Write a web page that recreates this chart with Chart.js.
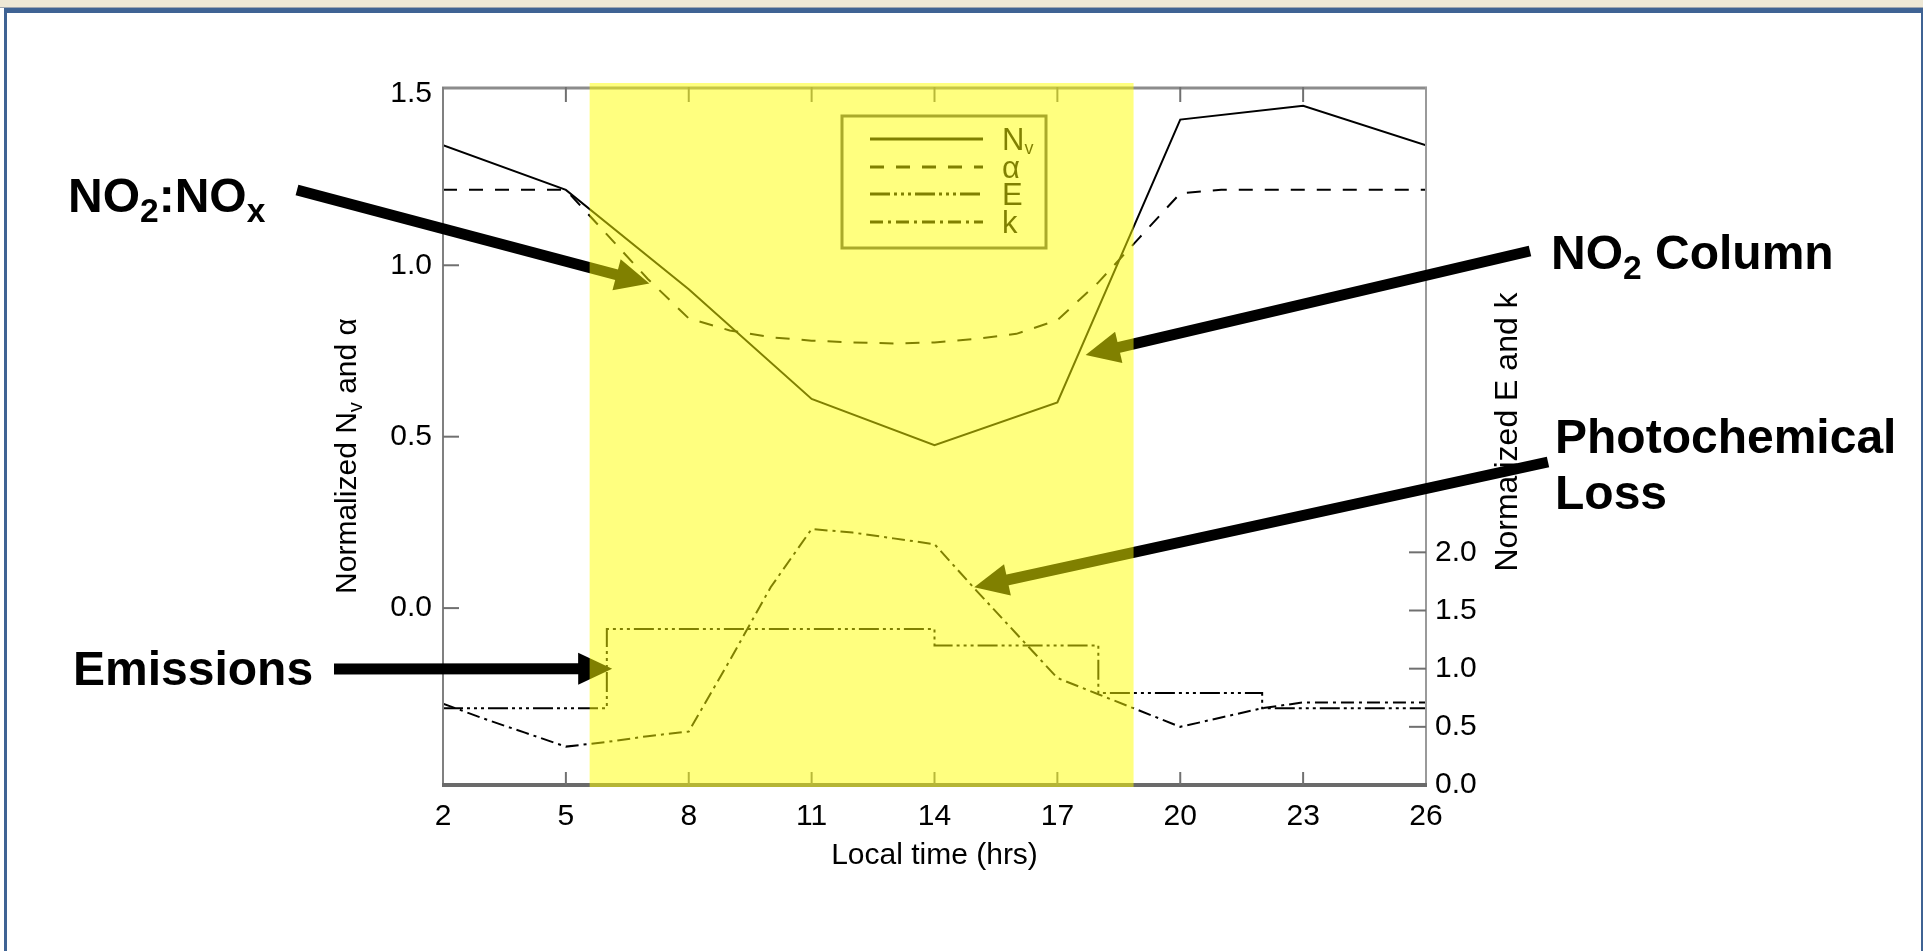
<!DOCTYPE html>
<html>
<head>
<meta charset="utf-8">
<script src="https://cdn.jsdelivr.net/npm/chart.js@4.4.1/dist/chart.umd.min.js"></script>
<style>
html,body{margin:0;padding:0;background:#fff;overflow:hidden;}
#wrap{position:relative;width:1923px;height:951px;background:#fff;}
#c{position:absolute;left:0;top:0;}
.band{position:absolute;left:0;top:0;width:1923px;height:7px;background:#EEE8D6;}
.gline{position:absolute;left:0;top:7px;width:1923px;height:1px;background:#9fa6b0;}
.bbar{position:absolute;left:4px;top:8px;width:1919px;height:5px;background:#3F6394;}
.lb{position:absolute;left:4px;top:8px;width:3px;height:943px;background:#3F6394;}
.rb{position:absolute;left:1921px;top:8px;width:2px;height:943px;background:#3F6394;}
.ann{position:absolute;font-family:'Liberation Sans',Arial,sans-serif;font-weight:bold;font-size:48px;color:#000;line-height:1;white-space:nowrap;}
.ann sub{font-size:0.7em;vertical-align:-0.3em;line-height:0;}
</style>
</head>
<body>
<div id="wrap">
  <canvas id="c" width="1923" height="951"></canvas>
  <div class="band"></div>
  <div class="gline"></div>
  <div class="bbar"></div>
  <div class="lb"></div>
  <div class="rb"></div>
  <div class="ann" style="left:68px;top:172px;">NO<sub>2</sub>:NO<sub>x</sub></div>
  <div class="ann" style="left:1551px;top:229px;">NO<sub>2</sub> Column</div>
  <div class="ann" style="left:1555px;top:409px;line-height:56px;">Photochemical<br>Loss</div>
  <div class="ann" style="left:73px;top:645px;">Emissions</div>
</div>
<script>
// ---------------- data ----------------
const hourGrid   = [2,3,4,5,6,7,8,9,10,11,12,13,14,15,16,17,18,19,20,21,22,23,24,25,26];
const nvHours    = [2,5,8,11,14,17,20,23,26];
const nvValues   = [1.35,1.22,0.93,0.61,0.475,0.60,1.425,1.465,1.35];
const alphaValues= [1.22,1.22,1.22,1.22,1.09,0.96,0.845,0.81,0.79,0.78,0.775,0.772,0.775,0.785,0.80,0.84,0.95,1.08,1.21,1.22,1.22,1.22,1.22,1.22,1.22];
const kValues    = [0.70,0.57,0.45,0.33,0.37,0.42,0.46,1.07,1.70,2.20,2.17,2.12,2.07,1.68,1.30,0.92,0.78,0.64,0.50,0.58,0.66,0.71,0.71,0.71,0.71];
const eHours     = [2,6,14,18,22,26];
const eValues    = [0.66,1.34,1.20,0.79,0.66,0.66];
const xTickValues     = [2,5,8,11,14,17,20,23,26];
const leftTickValues  = [0.0,0.5,1.0,1.5];
const rightTickValues = [0.0,0.5,1.0,1.5,2.0];
const daylight   = [5.58,18.86];
const seriesNames = ['N','α','E','k'];
const xTitle = 'Local time (hrs)';
const leftTitle  = ['Normalized N','v',' and α'];
const rightTitle = 'Normalized E and k';

// ---------------- styles ----------------
const FONT = "'Liberation Sans', Arial, sans-serif";
const dashes = { nv: [], alpha: [14,12], e: [20,4,3,4,3,4,3,4], k: [13,5,3,5] };

const pts = (xs, ys) => xs.map((x,i) => ({x, y: ys[i]}));

// annotation arrows: tails in canvas px, tips in data units
const arrows = [
  { tail:[297,190],  tip:{x:7.04,  y:0.947, axis:'yL'} },
  { tail:[1530,251], tip:{x:17.69, y:0.738, axis:'yL'} },
  { tail:[1548,462], tip:{x:14.97, y:1.70,  axis:'yR'} },
  { tail:[334,669],  tip:{x:6.13,  y:1.00,  axis:'yR'} }
];

function drawArrow(ctx, x1, y1, x2, y2) {
  const w = 11, hl = 34, hw = 16;
  const dx = x2 - x1, dy = y2 - y1, L = Math.hypot(dx, dy);
  const ux = dx / L, uy = dy / L, px = -uy, py = ux;
  const bx = x2 - ux * hl, by = y2 - uy * hl;
  ctx.save();
  ctx.strokeStyle = '#000'; ctx.fillStyle = '#000';
  ctx.lineWidth = w; ctx.lineCap = 'butt';
  ctx.beginPath(); ctx.moveTo(x1, y1); ctx.lineTo(bx + ux*2, by + uy*2); ctx.stroke();
  ctx.beginPath();
  ctx.moveTo(x2, y2);
  ctx.lineTo(bx + px*hw, by + py*hw);
  ctx.lineTo(bx - px*hw, by - py*hw);
  ctx.closePath(); ctx.fill();
  ctx.restore();
}

const decor = {
  id: 'decor',
  afterDraw(chart) {
    const {ctx, chartArea: a, scales} = chart;
    const xs = scales.x, yL = scales.yL, yR = scales.yR;
    ctx.save();
    // frame
    ctx.lineCap = 'butt';
    ctx.strokeStyle = '#8c8c8c'; ctx.lineWidth = 3;
    ctx.beginPath(); ctx.moveTo(a.left - 1, a.top + 1); ctx.lineTo(a.right + 1, a.top + 1); ctx.stroke();
    ctx.strokeStyle = '#808080'; ctx.lineWidth = 2;
    ctx.beginPath(); ctx.moveTo(a.left, a.top); ctx.lineTo(a.left, a.bottom); ctx.stroke();
    ctx.strokeStyle = '#9a9a9a';
    ctx.beginPath(); ctx.moveTo(a.right, a.top); ctx.lineTo(a.right, a.bottom); ctx.stroke();
    ctx.strokeStyle = '#6a6a6a'; ctx.lineWidth = 4;
    ctx.beginPath(); ctx.moveTo(a.left - 1, a.bottom); ctx.lineTo(a.right + 1, a.bottom); ctx.stroke();

    // inward tick marks
    ctx.strokeStyle = '#707070'; ctx.lineWidth = 2;
    xs.ticks.forEach(t => {
      if (t.value <= xs.min || t.value >= xs.max) return;
      const px = xs.getPixelForValue(t.value);
      ctx.beginPath(); ctx.moveTo(px, a.top); ctx.lineTo(px, a.top + 15); ctx.stroke();
      ctx.beginPath(); ctx.moveTo(px, a.bottom); ctx.lineTo(px, a.bottom - 13); ctx.stroke();
    });
    yL.ticks.forEach(t => {
      if (t.value >= 1.5) return;
      const py = yL.getPixelForValue(t.value);
      ctx.beginPath(); ctx.moveTo(a.left, py); ctx.lineTo(a.left + 16, py); ctx.stroke();
    });
    yR.ticks.forEach(t => {
      if (t.value <= 0) return;
      const py = yR.getPixelForValue(t.value);
      ctx.beginPath(); ctx.moveTo(a.right, py); ctx.lineTo(a.right - 17, py); ctx.stroke();
    });

    // axis titles
    ctx.fillStyle = '#000';
    ctx.textBaseline = 'middle';
    ctx.font = '30px ' + FONT;
    ctx.textAlign = 'center';
    ctx.fillText(xTitle, (a.left + a.right) / 2, 856);

    // left title (rotated, with subscript)
    const big = '30px ' + FONT, small = '20px ' + FONT;
    ctx.font = big; const w1 = ctx.measureText(leftTitle[0]).width, w3 = ctx.measureText(leftTitle[2]).width;
    ctx.font = small; const w2 = ctx.measureText(leftTitle[1]).width;
    const tot = w1 + w2 + w3;
    ctx.save();
    ctx.translate(346, 456); ctx.rotate(-Math.PI / 2);
    ctx.textAlign = 'left'; ctx.textBaseline = 'alphabetic';
    let cx = -tot / 2;
    ctx.font = big; ctx.fillText(leftTitle[0], cx, 10); cx += w1;
    ctx.font = small; ctx.fillText(leftTitle[1], cx, 16); cx += w2;
    ctx.font = big; ctx.fillText(leftTitle[2], cx, 10);
    ctx.restore();

    ctx.save();
    ctx.translate(1508, 432); ctx.rotate(-Math.PI / 2);
    ctx.textAlign = 'center'; ctx.textBaseline = 'middle';
    ctx.font = '32px ' + FONT; ctx.fillText(rightTitle, 0, 0);
    ctx.restore();

    // legend box
    const lx = 842, ly = 116, lw = 204, lh = 132;
    ctx.strokeStyle = '#555'; ctx.lineWidth = 3;
    ctx.strokeRect(lx, ly, lw, lh);
    const rows = [139, 167, 194, 222];
    const ds = [dashes.nv, dashes.alpha, dashes.e, dashes.k];
    ctx.strokeStyle = '#000'; ctx.lineWidth = 3;
    rows.forEach((ry, i) => {
      ctx.setLineDash(ds[i]);
      ctx.beginPath(); ctx.moveTo(870, ry); ctx.lineTo(983, ry); ctx.stroke();
    });
    ctx.setLineDash([]);
    ctx.fillStyle = '#000'; ctx.textAlign = 'left'; ctx.textBaseline = 'alphabetic';
    ctx.font = '31px ' + FONT;
    rows.forEach((ry, i) => {
      ctx.fillText(seriesNames[i], 1002, ry + 11);
    });
    const nW = ctx.measureText(seriesNames[0]).width;
    ctx.font = '18px ' + FONT;
    ctx.fillText('v', 1002 + nW, rows[0] + 15);

    // arrows
    arrows.forEach(ar => {
      const tx = xs.getPixelForValue(ar.tip.x);
      const ty = scales[ar.tip.axis].getPixelForValue(ar.tip.y);
      drawArrow(ctx, ar.tail[0], ar.tail[1], tx, ty);
    });

    // daylight (semi-transparent yellow overlay)
    const x0 = xs.getPixelForValue(daylight[0]), x1 = xs.getPixelForValue(daylight[1]);
    ctx.fillStyle = 'rgba(255,255,0,0.5)';
    ctx.fillRect(x0, a.top - 4, x1 - x0, a.bottom - a.top + 6);
    ctx.restore();
  }
};

const tickFont = { family: FONT, size: 30 };

new Chart(document.getElementById('c'), {
  type: 'line',
  data: {
    datasets: [
      { label: 'Nv', data: pts(nvHours, nvValues), yAxisID: 'yL', borderColor: '#000', borderWidth: 2, borderDash: dashes.nv, pointRadius: 0, tension: 0, fill: false },
      { label: 'α',  data: pts(hourGrid, alphaValues), yAxisID: 'yL', borderColor: '#000', borderWidth: 2, borderDash: dashes.alpha, pointRadius: 0, tension: 0, fill: false },
      { label: 'E',  data: pts(eHours, eValues), yAxisID: 'yR', borderColor: '#000', borderWidth: 2, borderDash: dashes.e, pointRadius: 0, stepped: true, fill: false },
      { label: 'k',  data: pts(hourGrid, kValues), yAxisID: 'yR', borderColor: '#000', borderWidth: 2, borderDash: dashes.k, pointRadius: 0, tension: 0, fill: false }
    ]
  },
  options: {
    responsive: false,
    animation: false,
    devicePixelRatio: 1,
    layout: { padding: { top: 87, left: 0, right: 0, bottom: 0 } },
    plugins: { legend: { display: false }, tooltip: { enabled: false } },
    scales: {
      x: {
        type: 'linear', position: 'bottom', min: 2, max: 26,
        afterBuildTicks: s => { s.ticks = xTickValues.map(v => ({ value: v })); },
        afterFit: s => { s.height = 951 - 785; },
        grid: { display: false, drawTicks: false },
        border: { display: false },
        ticks: { font: tickFont, color: '#000', padding: 14, maxRotation: 0, autoSkip: false, callback: v => String(v) }
      },
      yL: {
        type: 'linear', position: 'left', min: -0.516, max: 1.52,
        afterBuildTicks: s => { s.ticks = leftTickValues.map(v => ({ value: v })); },
        afterFit: s => { s.width = 443; },
        grid: { display: false, drawTicks: false },
        border: { display: false },
        ticks: { font: tickFont, color: '#000', padding: 11, callback: v => Number(v).toFixed(1) }
      },
      yR: {
        type: 'linear', position: 'right', min: 0, max: 6,
        afterBuildTicks: s => { s.ticks = rightTickValues.map(v => ({ value: v })); },
        afterFit: s => { s.width = 1923 - 1426; },
        grid: { display: false, drawTicks: false },
        border: { display: false },
        ticks: { font: tickFont, color: '#000', padding: 9, callback: v => Number(v).toFixed(1) }
      }
    }
  },
  plugins: [decor]
});
</script>
</body>
</html>
